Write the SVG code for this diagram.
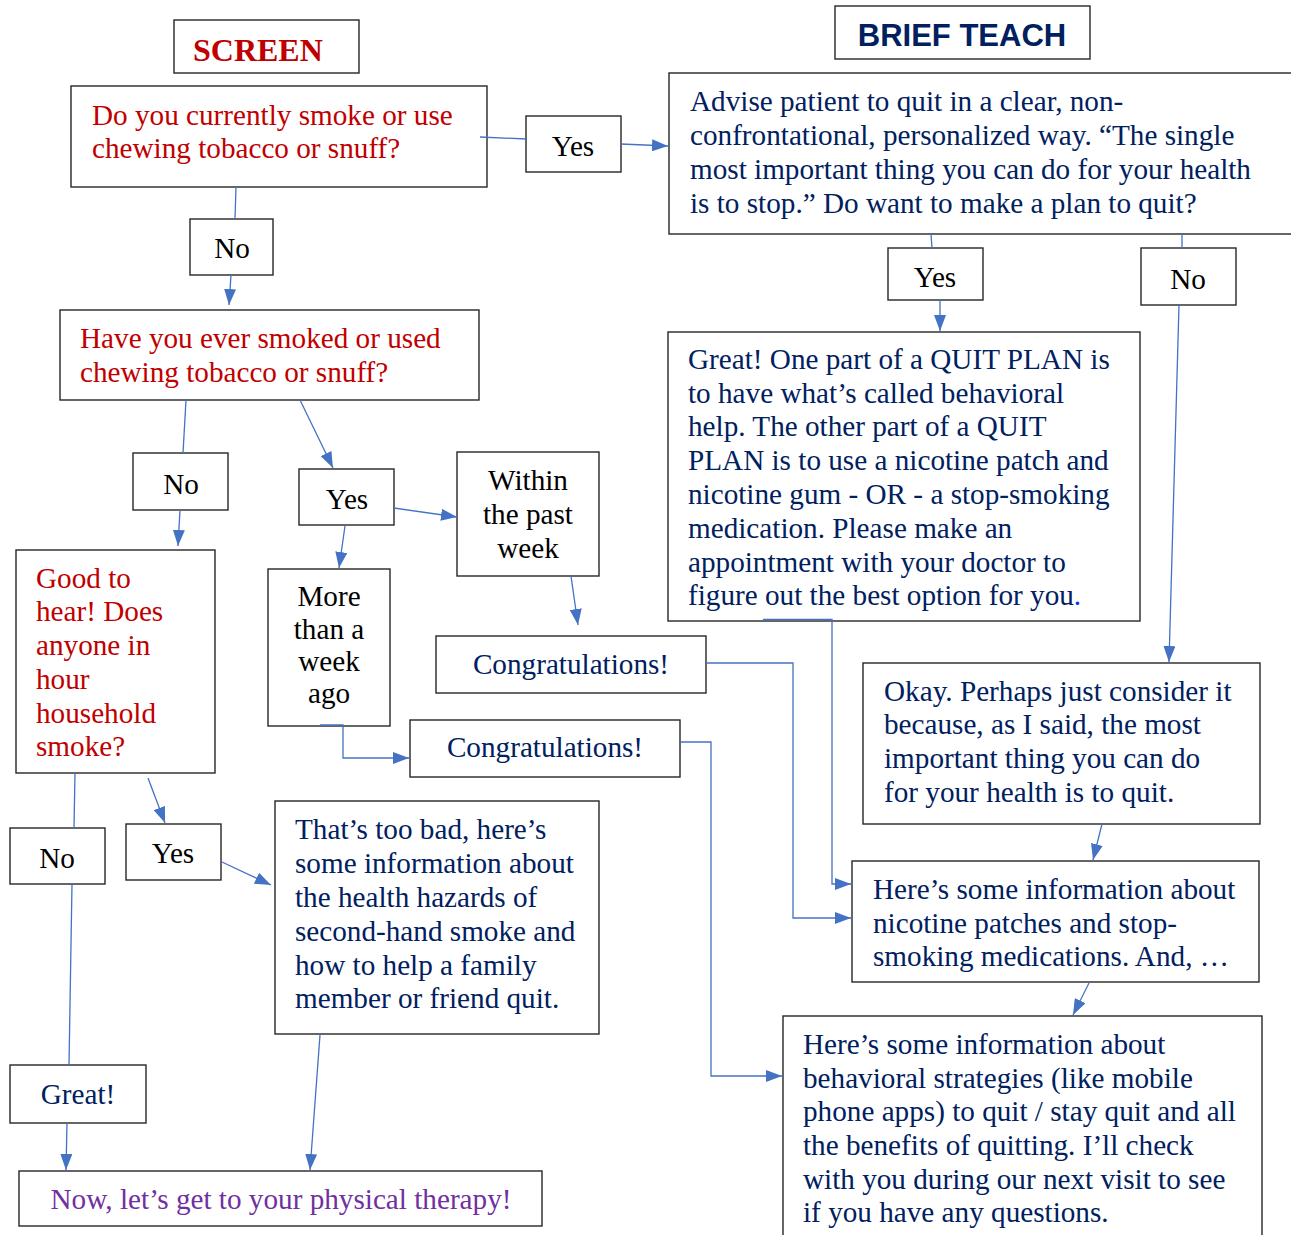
<svg xmlns="http://www.w3.org/2000/svg" width="1291" height="1235" viewBox="0 0 1291 1235">
<defs>
<marker id="ah" viewBox="0 0 16 12" refX="16" refY="6" markerWidth="16" markerHeight="12" markerUnits="userSpaceOnUse" orient="auto">
<path d="M0,0 L16,6 L0,12 z" fill="#4472C4"/>
</marker>
<style>
.box{fill:#fff;stroke:#262626;stroke-width:1.4}
.t{font-family:"Liberation Serif","Times New Roman",serif;font-size:29.2px}
.red{fill:#C00000}
.navy{fill:#002060}
.blk{fill:#000}
.pur{fill:#7030A0}
.c{text-anchor:middle}
.cn{fill:none;stroke:#4472C4;stroke-width:1.3}
.ar{marker-end:url(#ah)}
</style>
</defs>
<rect width="1291" height="1235" fill="#fff"/>

<g id="screen-title">
<rect class="box" x="174" y="20" width="185" height="53"/>
<text x="193" y="61" style="font-family:'Liberation Serif','Times New Roman',serif;font-size:32px;font-weight:bold" class="red">SCREEN</text>
</g>

<g id="brief-title">
<rect class="box" x="835" y="6" width="255" height="53"/>
<text x="962" y="46" class="c navy" style="font-family:'Liberation Sans',Arial,sans-serif;font-size:31px;font-weight:bold">BRIEF TEACH</text>
</g>

<g id="q1">
<rect class="box" x="71" y="86" width="416" height="101"/>
<text class="t red" x="92" y="125">Do you currently smoke or use</text>
<text class="t red" x="92" y="158">chewing tobacco or snuff?</text>
</g>

<g id="yes1">
<rect class="box" x="526" y="116" width="95" height="56"/>
<text class="t blk c" x="573" y="156">Yes</text>
</g>

<g id="advise">
<rect class="box" x="669" y="73" width="630" height="161"/>
<text class="t navy" x="690" y="111">Advise patient to quit in a clear, non-</text>
<text class="t navy" x="690" y="145">confrontational, personalized way. “The single</text>
<text class="t navy" x="690" y="179">most important thing you can do for your health</text>
<text class="t navy" x="690" y="213">is to stop.” Do want to make a plan to quit?</text>
</g>

<g id="yes2">
<rect class="box" x="888" y="248" width="95" height="52"/>
<text class="t blk c" x="935" y="287">Yes</text>
</g>

<g id="no2">
<rect class="box" x="1141" y="248" width="95" height="57"/>
<text class="t blk c" x="1188" y="289">No</text>
</g>

<g id="plan">
<rect class="box" x="668" y="332" width="472" height="289"/>
<text class="t navy" x="688" y="369">Great! One part of a QUIT PLAN is</text>
<text class="t navy" x="688" y="403">to have what’s called behavioral</text>
<text class="t navy" x="688" y="436">help. The other part of a QUIT</text>
<text class="t navy" x="688" y="470">PLAN is to use a nicotine patch and</text>
<text class="t navy" x="688" y="504">nicotine gum - OR - a stop-smoking</text>
<text class="t navy" x="688" y="538">medication. Please make an</text>
<text class="t navy" x="688" y="572">appointment with your doctor to</text>
<text class="t navy" x="688" y="605">figure out the best option for you<tspan fill="#0033FF">.</tspan></text>
</g>

<g id="okay">
<rect class="box" x="863" y="663" width="397" height="161"/>
<text class="t navy" x="884" y="701">Okay. Perhaps just consider it</text>
<text class="t navy" x="884" y="734">because, as I said, the most</text>
<text class="t navy" x="884" y="768">important thing you can do</text>
<text class="t navy" x="884" y="802">for your health is to quit.</text>
</g>

<g id="nicotine-info">
<rect class="box" x="852" y="861" width="407" height="121"/>
<text class="t navy" x="873" y="899">Here’s some information about</text>
<text class="t navy" x="873" y="933">nicotine patches and stop-</text>
<text class="t navy" x="873" y="966">smoking medications. And, …</text>
</g>

<g id="behavioral-info">
<rect class="box" x="783" y="1016" width="479" height="230"/>
<text class="t navy" x="803" y="1054">Here’s some information about</text>
<text class="t navy" x="803" y="1088">behavioral strategies (like mobile</text>
<text class="t navy" x="803" y="1121">phone apps) to quit / stay quit and all</text>
<text class="t navy" x="803" y="1155">the benefits of quitting. I’ll check</text>
<text class="t navy" x="803" y="1189">with you during our next visit to see</text>
<text class="t navy" x="803" y="1222">if you have any questions.</text>
</g>

<g id="no1">
<rect class="box" x="190" y="219" width="83" height="56"/>
<text class="t blk c" x="232" y="258">No</text>
</g>

<g id="q2">
<rect class="box" x="60" y="310" width="419" height="90"/>
<text class="t red" x="80" y="348">Have you ever smoked or used</text>
<text class="t red" x="80" y="382">chewing tobacco or snuff?</text>
</g>

<g id="no3">
<rect class="box" x="133" y="453" width="95" height="57"/>
<text class="t blk c" x="181" y="494">No</text>
</g>

<g id="yes3">
<rect class="box" x="299" y="469" width="95" height="56"/>
<text class="t blk c" x="347" y="509">Yes</text>
</g>

<g id="within">
<rect class="box" x="457" y="452" width="142" height="124"/>
<text class="t blk c" x="528" y="490">Within</text>
<text class="t blk c" x="528" y="524">the past</text>
<text class="t blk c" x="528" y="558">week</text>
</g>

<g id="congrats1">
<rect class="box" x="436" y="636" width="270" height="57"/>
<text class="t navy c" x="571" y="674">Congratulations!</text>
</g>

<g id="more">
<rect class="box" x="268" y="569" width="122" height="157"/>
<text class="t blk c" x="329" y="606">More</text>
<text class="t blk c" x="329" y="639">than a</text>
<text class="t blk c" x="329" y="671">week</text>
<text class="t blk c" x="329" y="703">ago</text>
</g>

<g id="congrats2">
<rect class="box" x="410" y="720" width="270" height="57"/>
<text class="t navy c" x="545" y="757">Congratulations!</text>
</g>

<g id="good">
<rect class="box" x="16" y="550" width="199" height="223"/>
<text class="t red" x="36" y="588">Good to</text>
<text class="t red" x="36" y="621">hear! Does</text>
<text class="t red" x="36" y="655">anyone in</text>
<text class="t red" x="36" y="689">hour</text>
<text class="t red" x="36" y="723">household</text>
<text class="t red" x="36" y="756">smoke?</text>
</g>

<g id="no4">
<rect class="box" x="10" y="828" width="95" height="56"/>
<text class="t blk c" x="57" y="868">No</text>
</g>

<g id="yes4">
<rect class="box" x="126" y="824" width="95" height="56"/>
<text class="t blk c" x="173" y="863">Yes</text>
</g>

<g id="toobad">
<rect class="box" x="275" y="801" width="324" height="233"/>
<text class="t navy" x="295" y="839">That’s too bad, here’s</text>
<text class="t navy" x="295" y="873">some information about</text>
<text class="t navy" x="295" y="907">the health hazards of</text>
<text class="t navy" x="295" y="941">second-hand smoke and</text>
<text class="t navy" x="295" y="975">how to help a family</text>
<text class="t navy" x="295" y="1008">member or friend quit.</text>
</g>

<g id="great">
<rect class="box" x="10" y="1065" width="136" height="58"/>
<text class="t navy c" x="78" y="1104">Great!</text>
</g>

<g id="now">
<rect class="box" x="19" y="1171" width="523" height="55"/>
<text class="t pur c" x="281" y="1209">Now, let’s get to your physical therapy!</text>
</g>

<g id="connectors">
<path class="cn" d="M480,137 L526,139"/>
<path class="cn ar" d="M621,144 L668,146"/>
<path class="cn" d="M236,187 L235,219"/>
<path class="cn ar" d="M231,275 L229,305"/>
<path class="cn" d="M931,234 L932,248"/>
<path class="cn ar" d="M940,300 L940,331"/>
<path class="cn" d="M1182,234 L1182,248"/>
<path class="cn ar" d="M1179,305 L1169,662"/>
<path class="cn ar" d="M1102,824 L1093,860"/>
<path class="cn ar" d="M1089,983 L1073,1015"/>
<path class="cn ar" d="M763,619.5 L832,619.5 L832,884 L851,884"/>
<path class="cn ar" d="M707,663 L793,663 L793,918 L851,918"/>
<path class="cn ar" d="M681,742 L711,742 L711,1076 L782,1076"/>
<path class="cn" d="M186,400 L183,453"/>
<path class="cn ar" d="M180,510 L178,546"/>
<path class="cn ar" d="M300,400 L333,468"/>
<path class="cn ar" d="M394,508 L457,517"/>
<path class="cn ar" d="M345,526 L339,568"/>
<path class="cn ar" d="M571,576 L578,625"/>
<path class="cn ar" d="M320,725 L343,725 L343,758 L409,758"/>
<path class="cn" d="M75,773 L74,828"/>
<path class="cn" d="M72,884 L69,1065"/>
<path class="cn ar" d="M148,778 L165,823"/>
<path class="cn ar" d="M222,862 L271,885"/>
<path class="cn ar" d="M320,1035 L310,1170"/>
<path class="cn ar" d="M67,1123 L66,1170"/>
</g>
</svg>
